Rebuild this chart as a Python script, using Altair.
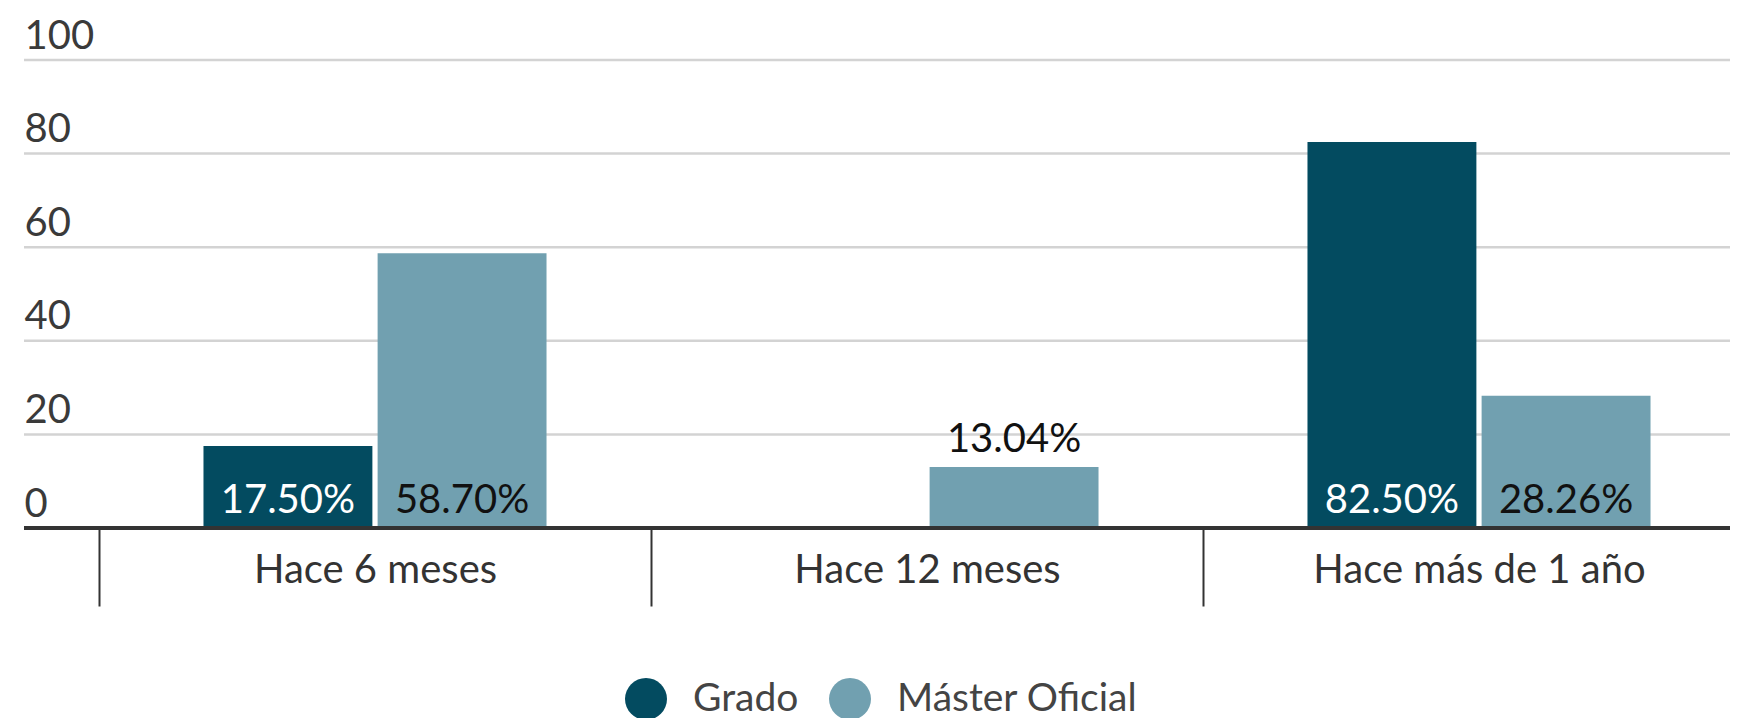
import altair as alt
import pandas as pd

periods = ["Hace 6 meses", "Hace 12 meses", "Hace más de 1 año"]
series = ["Grado", "Máster Oficial"]
grado = [17.50, None, 82.50]
master = [58.70, 13.04, 28.26]
y_ticks = [0, 20, 40, 60, 80, 100]
colors = ["#034b60", "#71a0b0"]

rows = []
for p, g, m in zip(periods, grado, master):
    if g is not None:
        rows.append({"periodo": p, "serie": series[0], "valor": g})
    if m is not None:
        rows.append({"periodo": p, "serie": series[1], "valor": m})
df = pd.DataFrame(rows)

FONT = "Lato"
W, H = 1706, 468

x_axis = alt.Axis(domain=False, ticks=True, tickBand="extent", tickSize=78,
                  tickColor="#333333", tickWidth=2, grid=False, labelLimit=0,
                  labelFont=FONT, labelFontSize=40, labelColor="#333333",
                  labelPadding=-56, labelBaseline="top", labelAngle=0)
x = alt.X("periodo:N", sort=periods, title=None,
          scale=alt.Scale(range=[75, 1731], paddingInner=0, paddingOuter=0),
          axis=x_axis)
xo = alt.XOffset("serie:N", sort=series,
                 scale=alt.Scale(paddingInner=0.03, paddingOuter=0.60))
y_axis = alt.Axis(values=y_ticks, domain=False, ticks=False, grid=False,
                  labelAlign="left", labelPadding=0, labelBaseline="alphabetic",
                  labelOffset=-12, labelFont=FONT, labelFontSize=40,
                  labelColor="#3a3a3a")
y_scale = alt.Scale(domain=[0, 100])

grid = alt.Chart(pd.DataFrame({"g": y_ticks})).mark_rule(
    color="#d3d3d3", strokeWidth=2.5
).encode(y=alt.Y("g:Q", scale=y_scale, title=None, axis=y_axis))

bars = alt.Chart(df).mark_bar().encode(
    x=x,
    xOffset=xo,
    y=alt.Y("valor:Q", scale=y_scale, title=None, axis=y_axis),
    color=alt.Color("serie:N", sort=series,
                    scale=alt.Scale(domain=series, range=colors),
                    legend=alt.Legend(title=None, orient="none", legendX=601,
                                      legendY=618, direction="horizontal",
                                      symbolType="circle", symbolSize=1764,
                                      symbolStrokeWidth=0, symbolOpacity=1,
                                      labelFont=FONT, labelFontSize=39,
                                      labelColor="#444444", labelOffset=26,
                                      labelLimit=0,
                                      columnPadding=30, padding=0)),
)

base = alt.Chart(pd.DataFrame({"base": [0]})).mark_rule(
    color="#333333", strokeWidth=4
).encode(y=alt.Y("base:Q", scale=y_scale, title=None, axis=y_axis))

labels = alt.Chart(df).transform_calculate(
    ly="datum.valor >= 15 ? 0 : datum.valor",
    etiqueta="format(datum.valor, '.2f') + '%'",
).mark_text(font=FONT, fontSize=40, baseline="alphabetic", dy=-15).encode(
    x=x,
    xOffset=xo,
    y=alt.Y("ly:Q", scale=y_scale, title=None, axis=y_axis),
    text="etiqueta:N",
    color=alt.condition("datum.serie == 'Grado' && datum.valor >= 15",
                        alt.value("#ffffff"), alt.value("#111111")),
)

chart = alt.layer(grid, bars, base, labels).properties(
    width=W, height=H,
    autosize=alt.AutoSizeParams(type="none"),
    padding={"left": 16, "top": 52, "right": 0, "bottom": 190},
).configure_view(stroke=None)

chart.save("out.html", embed_options={"renderer": "svg", "actions": False})
